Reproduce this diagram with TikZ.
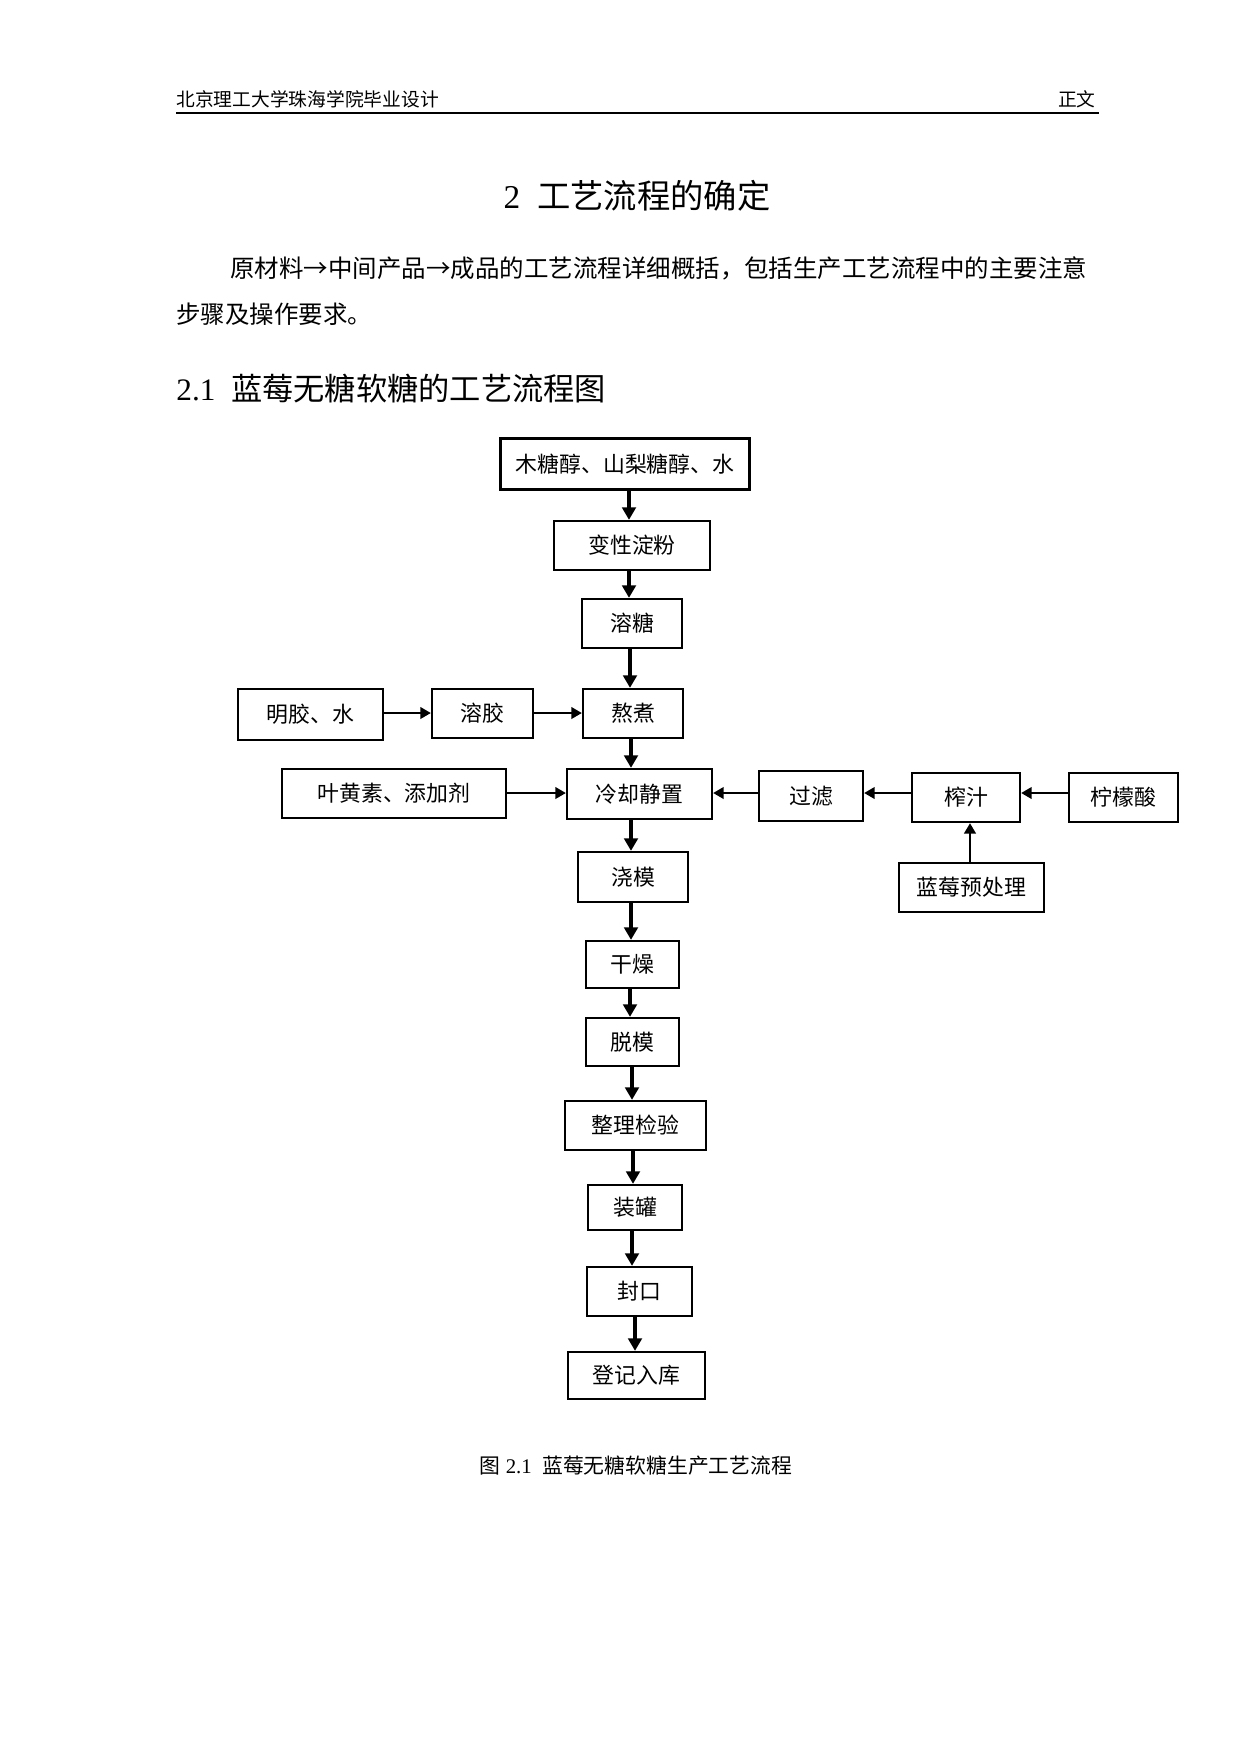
\documentclass[tikz,border=0pt]{standalone}
\usepackage{fontspec}
\setmainfont{Liberation Serif}
\newfontfamily\cjk{Noto Sans CJK SC}
\usetikzlibrary{positioning}
\usetikzlibrary{arrows.meta}
\newdimen\unitpx
\unitpx=0.48pt
\tikzset{procbox/.style={draw,line width=1.1pt,inner sep=0pt,font=\cjk\fontsize{10.5pt}{12pt}\selectfont},
mainflow/.style={line width=2.3pt,-{Triangle[width=6.5pt,length=6pt]}},
sideflow/.style={line width=1pt,-{Triangle[width=5.5pt,length=5pt]}},
pagetext/.style={inner sep=0pt}}
\begin{document}
\begin{tikzpicture}[x=0.48pt,y=-0.48pt]
\useasboundingbox (0,0) rectangle (1240,1754);
\node[pagetext,anchor=west,font=\cjk\fontsize{9pt}{10pt}\selectfont] (school) at (176,99.5) {北京理工大学珠海学院毕业设计};
\node[pagetext,anchor=east,font=\cjk\fontsize{9pt}{10pt}\selectfont] (part) at (1096,99.5) {正文};
\draw[line width=1pt] (176,113) -- (1099,113);
\node[pagetext,font=\fontsize{16pt}{18pt}\selectfont] (title) at (637,196) {2\ \ {\cjk 工艺流程的确定}};
\node[pagetext,anchor=west,font=\cjk\fontsize{11.75pt}{14pt}\selectfont] (para1) at (230,268.5) {原材料→中间产品→成品的工艺流程详细概括，包括生产工艺流程中的主要注意};
\node[pagetext,anchor=west,font=\cjk\fontsize{11.75pt}{14pt}\selectfont] (para2) at (176,314.5) {步骤及操作要求。};
\node[pagetext,anchor=west,font=\fontsize{15pt}{17pt}\selectfont] (section) at (176,389) {2.1\ \ {\cjk 蓝莓无糖软糖的工艺流程图}};

\foreach \n/\x/\y/\w/\h/\t in {1/625/464/249/51/木糖醇、山梨糖醇、水, 2/632/545.5/156/49/变性淀粉, 3/632/623.5/100/49/溶糖, 4/633/713.5/100/49/熬煮, 5/639.5/794/145/50/冷却静置, 6/633/877/110/50/浇模, 7/632.5/964.5/93/47/干燥, 8/632.5/1042/93/48/脱模, 9/635.5/1125.5/141/49/整理检验, 10/635/1207.5/94/45/装罐, 11/639.5/1291.5/105/49/封口, 12/636.5/1375.5/137/47/登记入库} {
\node[procbox,minimum width=\w\unitpx,minimum height=\h\unitpx] (m\n) at (\x,\y) {\t};
}
\foreach \a/\b/\ax in {1/2/629, 2/3/629, 3/4/630, 4/5/631, 5/6/631, 6/7/631, 7/8/630, 8/9/632, 9/10/633, 10/11/632, 11/12/635} {
\draw[mainflow] (\ax,0 |- m\a.south) -- (\ax,0 |- m\b.north);
}

\node[procbox,minimum width=145\unitpx,minimum height=51\unitpx] (gelatin) at (310.5,714.5) {明胶、水};
\node[procbox,minimum width=101\unitpx,minimum height=49\unitpx] (melt) at (482.5,713.5) {溶胶};
\node[procbox,minimum width=224\unitpx,minimum height=49\unitpx] (additive) at (394,793.5) {叶黄素、添加剂};
\node[procbox,minimum width=104\unitpx,minimum height=50\unitpx] (filter) at (811,796) {过滤};
\node[procbox,minimum width=108\unitpx,minimum height=49\unitpx] (press) at (966,797.5) {榨汁};
\node[procbox,minimum width=109\unitpx,minimum height=49\unitpx] (citric) at (1123.5,797.5) {柠檬酸};
\node[procbox,minimum width=145\unitpx,minimum height=49\unitpx] (berry) at (971.5,887.5) {蓝莓预处理};

\draw[sideflow] (gelatin.east |- 0,713) -- (melt.west |- 0,713);
\draw[sideflow] (melt.east |- 0,713) -- (m4.west |- 0,713);
\draw[sideflow] (additive.east |- 0,793) -- (m5.west |- 0,793);
\draw[sideflow] (filter.west |- 0,793) -- (m5.east |- 0,793);
\draw[sideflow] (press.west |- 0,793) -- (filter.east |- 0,793);
\draw[sideflow] (citric.west |- 0,793) -- (press.east |- 0,793);
\draw[sideflow,line width=1.2pt] (970,0 |- berry.north) -- (970,0 |- press.south);

\node[pagetext,font=\fontsize{10pt}{12pt}\selectfont] (caption) at (636,1466) {{\cjk 图}\ 2.1\ \ {\cjk 蓝莓无糖软糖生产工艺流程}};
\end{tikzpicture}
\end{document}
